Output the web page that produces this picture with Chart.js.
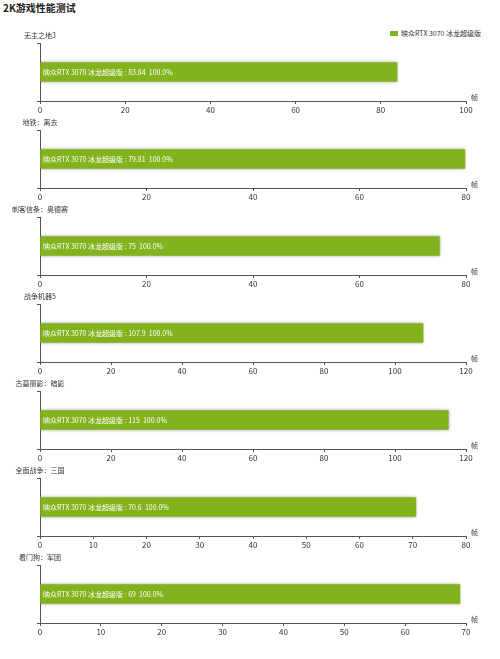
<!DOCTYPE html>
<html>
<head>
<meta charset="utf-8">
<script src="https://cdn.jsdelivr.net/npm/chart.js@4"></script>
<style>
  body { margin: 0; width: 500px; height: 659px; background: #fff; position: relative; overflow: hidden;
         font-family: "Noto Sans CJK SC", "Noto Sans", sans-serif; }
  #title { position: absolute; left: 3px; top: 0px; font-size: 10px; font-weight: bold; color: #222; }
  #legend { position: absolute; left: 390px; top: 28px; font-size: 7px; color: #333; white-space: nowrap; }
  #legend span.box { display: inline-block; width: 8px; height: 5px; background: #82b21c; margin-right: 3px; vertical-align: 0px; }
  canvas { position: absolute; left: 0; }
</style>
</head>
<body>
<div id="title">2K游戏性能测试</div>
<div id="legend"><span class="box"></span>映众RTX 3070 冰龙超级版</div>
<div id="charts"></div>
<script>
var seriesName = '映众RTX 3070 冰龙超级版';
var games = ['无主之地3', '地铁：离去', '刺客信条：奥德赛', '战争机器5', '古墓丽影：暗影', '全面战争：三国', '看门狗：军团'];
var fps = [83.84, 79.81, 75, 107.9, 115, 70.6, 69];
var axisMax = [100, 80, 80, 120, 120, 80, 70];
var axisStep = [20, 20, 20, 20, 20, 10, 10];

var barColor = '#82b21c';
var axisColor = '#555';
var fontFam = '"Noto Sans CJK SC", "Noto Sans", sans-serif';

// panel title, bar label and unit
var panelText = {
  id: 'panelText',
  beforeDatasetsDraw: function (chart) {
    var ctx = chart.ctx;
    ctx.save();
    ctx.shadowColor = 'rgba(0,0,0,0.35)';
    ctx.shadowBlur = 3;
  },
  afterDatasetsDraw: function (chart) {
    var ctx = chart.ctx;
    ctx.restore();
    var area = chart.chartArea;
    var ds = chart.data.datasets[0];
    var bar = chart.getDatasetMeta(0).data[0];
    ctx.save();
    ctx.font = '7px ' + fontFam;
    ctx.textBaseline = 'middle';
    ctx.fillStyle = '#fff';
    ctx.textAlign = 'left';
    ctx.fillText(ds.label + ' : ' + ds.data[0] + '  100.0%', area.left + 3, bar.y);
    ctx.fillStyle = '#333';
    ctx.textAlign = 'center';
    ctx.fillText(chart.data.labels[0], area.left, 8);
    ctx.textAlign = 'left';
    ctx.fillText('帧', area.right + 5, area.bottom - 4);
    ctx.restore();
  }
};

var holder = document.getElementById('charts');
for (var i = 0; i < games.length; i++) {
  var cv = document.createElement('canvas');
  cv.width = 500;
  cv.height = 87;
  cv.style.top = (27 + 87 * i) + 'px';
  holder.appendChild(cv);

  new Chart(cv.getContext('2d'), {
    type: 'bar',
    data: {
      labels: [games[i]],
      datasets: [{
        label: seriesName,
        data: [fps[i]],
        backgroundColor: barColor,
        barThickness: 19
      }]
    },
    options: {
      indexAxis: 'y',
      responsive: false,
      animation: false,
      layout: { padding: { left: 40, right: 34, top: 16, bottom: 0 } },
      plugins: { legend: { display: false }, tooltip: { enabled: false } },
      scales: {
        x: {
          min: 0,
          max: axisMax[i],
          afterFit: function (s) { s.height = 13; },
          ticks: { stepSize: axisStep[i], color: '#333', padding: 1, font: { size: 8, family: fontFam } },
          grid: { drawOnChartArea: false, tickLength: 3, color: axisColor },
          border: { color: axisColor }
        },
        y: {
          afterFit: function (s) { s.width = 0; },
          ticks: { display: false },
          grid: { drawOnChartArea: false, tickLength: 3, color: axisColor },
          border: { color: axisColor }
        }
      }
    },
    plugins: [panelText]
  });
}
</script>
</body>
</html>
